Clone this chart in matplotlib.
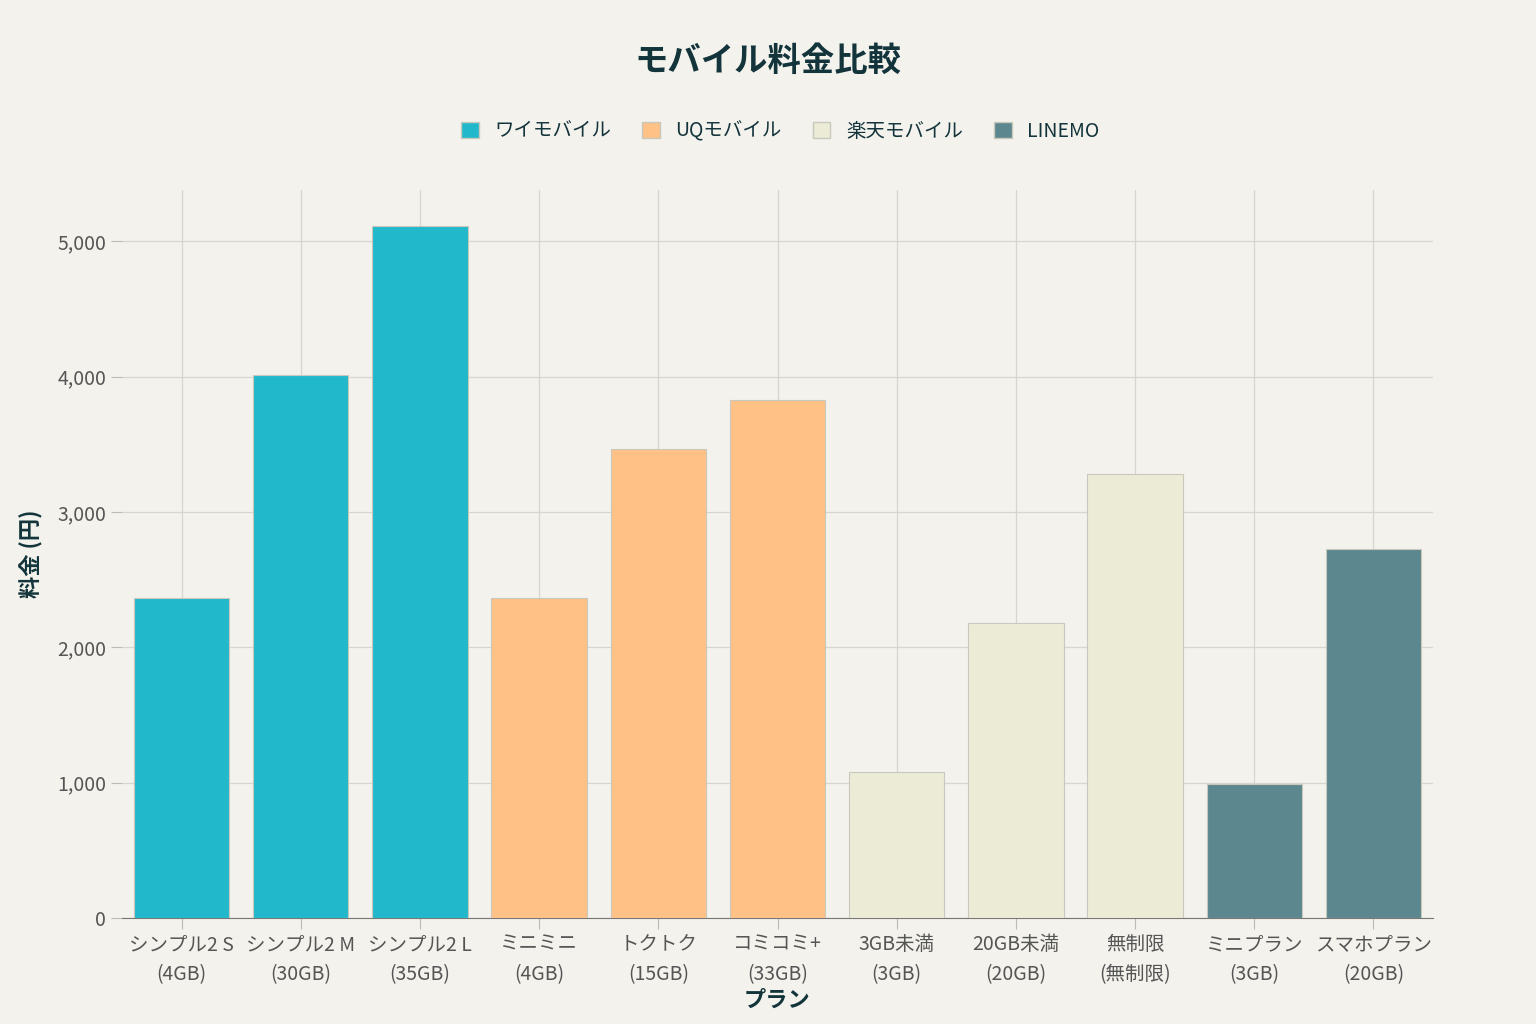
import matplotlib.pyplot as plt
from matplotlib.patches import Patch

plt.rcParams["font.family"] = "Noto Sans CJK JP"

plans = ["シンプル2 S\n(4GB)", "シンプル2 M\n(30GB)", "シンプル2 L\n(35GB)",
         "ミニミニ\n(4GB)", "トクトク\n(15GB)", "コミコミ+\n(33GB)",
         "3GB未満\n(3GB)", "20GB未満\n(20GB)", "無制限\n(無制限)",
         "ミニプラン\n(3GB)", "スマホプラン\n(20GB)"]
prices = [2365, 4015, 5115, 2365, 3465, 3828, 1078, 2178, 3278, 990, 2728]
carriers = ["ワイモバイル"] * 3 + ["UQモバイル"] * 3 + ["楽天モバイル"] * 3 + ["LINEMO"] * 2
carrier_names = ["ワイモバイル", "UQモバイル", "楽天モバイル", "LINEMO"]
colors = {"ワイモバイル": "#21B8CC", "UQモバイル": "#FFC185",
          "楽天モバイル": "#ECEBD5", "LINEMO": "#5D878F"}

bg = "#F3F2EC"
fig = plt.figure(figsize=(15.36, 10.24), dpi=100, facecolor=bg)
ax = fig.add_axes([122 / 1536, 106 / 1024, 1311 / 1536, 728 / 1024], facecolor=bg)

x = range(len(plans))
ax.bar(x, prices, width=0.8, color=[colors[c] for c in carriers],
       edgecolor="#C8C8BC", linewidth=0.8, zorder=3)

ax.set_xlim(-0.5, len(plans) - 0.5)
ax.set_ylim(0, 5380)
ax.set_yticks([0, 1000, 2000, 3000, 4000, 5000])
ax.set_yticklabels(["0", "1,000", "2,000", "3,000", "4,000", "5,000"])
ax.set_xticks(list(x))
ax.set_xticklabels(plans, fontsize=14, color="#555555", linespacing=1.6)
ax.tick_params(axis="y", labelsize=14, colors="#555555", length=8, color="#BBBBBB")
ax.tick_params(axis="x", length=8, color="#BBBBBB")
ax.grid(True, color="#D6D6D0", linewidth=0.9, zorder=0)
for s in ["top", "right", "left"]:
    ax.spines[s].set_visible(False)
ax.spines["bottom"].set_color("#777777")

ax.set_xlabel("プラン", fontsize=16, fontweight="bold", color="#13343B", labelpad=2)
ax.set_ylabel("料金 (円)", fontsize=16, fontweight="bold", color="#13343B", labelpad=10)

fig.text(0.5, 0.94, "モバイル料金比較", ha="center", va="center",
         fontsize=24, fontweight="bold", color="#13343B")
handles = [Patch(facecolor=colors[c], edgecolor="#C8C8BC", label=c) for c in carrier_names]
fig.legend(handles=handles, loc="center", bbox_to_anchor=(0.508, 0.872), ncol=4,
           frameon=False, fontsize=14, handlelength=0.9, handleheight=0.9,
           columnspacing=1.6, labelcolor="#13343B")

fig.savefig("out.png", dpi=100, facecolor=bg)
